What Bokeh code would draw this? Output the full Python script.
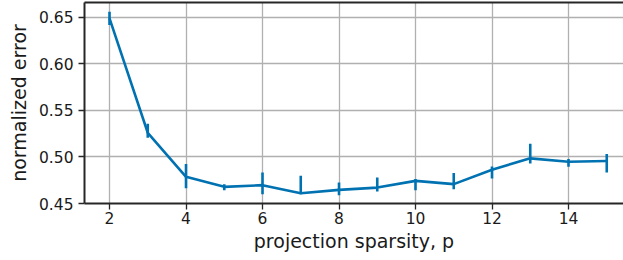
from bokeh.plotting import figure
from bokeh.models import ColumnDataSource, Range1d, FixedTicker, LinearAxis
from bokeh.embed import file_html
from bokeh.resources import INLINE

sparsity = [2, 3, 4, 5, 6, 7, 8, 9, 10, 11, 12, 13, 14, 15]
error_mean = [0.649, 0.526, 0.4787, 0.4679, 0.4697, 0.461, 0.4646, 0.4671, 0.4743, 0.4708, 0.4863, 0.4985, 0.4949, 0.4957]
error_low = [0.6419, 0.5206, 0.4665, 0.4643, 0.4600, 0.4600, 0.4589, 0.4628, 0.4643, 0.4654, 0.4768, 0.4931, 0.4895, 0.4833]
error_high = [0.6560, 0.5357, 0.4924, 0.4708, 0.4833, 0.4798, 0.4725, 0.4780, 0.4762, 0.4827, 0.4898, 0.5141, 0.4978, 0.5032]
x_ticks = [2, 4, 6, 8, 10, 12, 14]
y_ticks = [0.45, 0.50, 0.55, 0.60, 0.65]
y_tick_labels = ["0.45", "0.50", "0.55", "0.60", "0.65"]

BLUE = "#0072B2"
FONT = "DejaVu Sans"
SPINE = "#262626"

src = ColumnDataSource(dict(x=sparsity, y=error_mean, lo=error_low, hi=error_high))

p = figure(width=623, height=258, output_backend="svg", toolbar_location=None,
           x_range=Range1d(1.346, 15.438), y_range=Range1d(0.45, 0.666),
           min_border_left=84, min_border_right=0, min_border_top=2, min_border_bottom=55)
p.outline_line_color = None
p.background_fill_color = "white"

for g in (p.xgrid, p.ygrid):
    g.grid_line_color = "#b0b0b0"
    g.grid_line_width = 1.3
p.xaxis.ticker = FixedTicker(ticks=x_ticks)
p.yaxis.ticker = FixedTicker(ticks=y_ticks)
p.yaxis.major_label_overrides = {t: l for t, l in zip(y_ticks, y_tick_labels)}

for ax in (p.xaxis[0], p.yaxis[0]):
    ax.axis_line_color = SPINE
    ax.axis_line_width = 2
    ax.major_tick_line_color = SPINE
    ax.major_tick_line_width = 1.3
    ax.major_tick_out = 6
    ax.major_tick_in = 0
    ax.minor_tick_line_color = None
    ax.major_label_text_font = FONT
    ax.major_label_text_font_size = "15.5px"
    ax.major_label_text_color = "#1a1a1a"
    ax.axis_label_text_font = FONT
    ax.axis_label_text_font_size = "19px"
    ax.axis_label_text_font_style = "normal"
    ax.axis_label_text_color = "#1a1a1a"

p.xaxis.axis_label = "projection sparsity, p"
p.yaxis.axis_label = "normalized error"
p.xaxis.major_label_standoff = 2
p.xaxis.axis_label_standoff = 3
p.yaxis.major_label_standoff = 5
p.yaxis.axis_label_standoff = 6

top = LinearAxis(ticker=FixedTicker(ticks=[]), axis_line_color=SPINE, axis_line_width=2,
                 major_tick_line_color=None, minor_tick_line_color=None,
                 major_label_text_font_size="0px")
p.add_layout(top, "above")

p.segment(x0="x", y0="lo", x1="x", y1="hi", source=src, line_color=BLUE, line_width=2.6)
p.line(x="x", y="y", source=src, line_color=BLUE, line_width=2.6)

open("out.html", "w").write(file_html(p, INLINE))
